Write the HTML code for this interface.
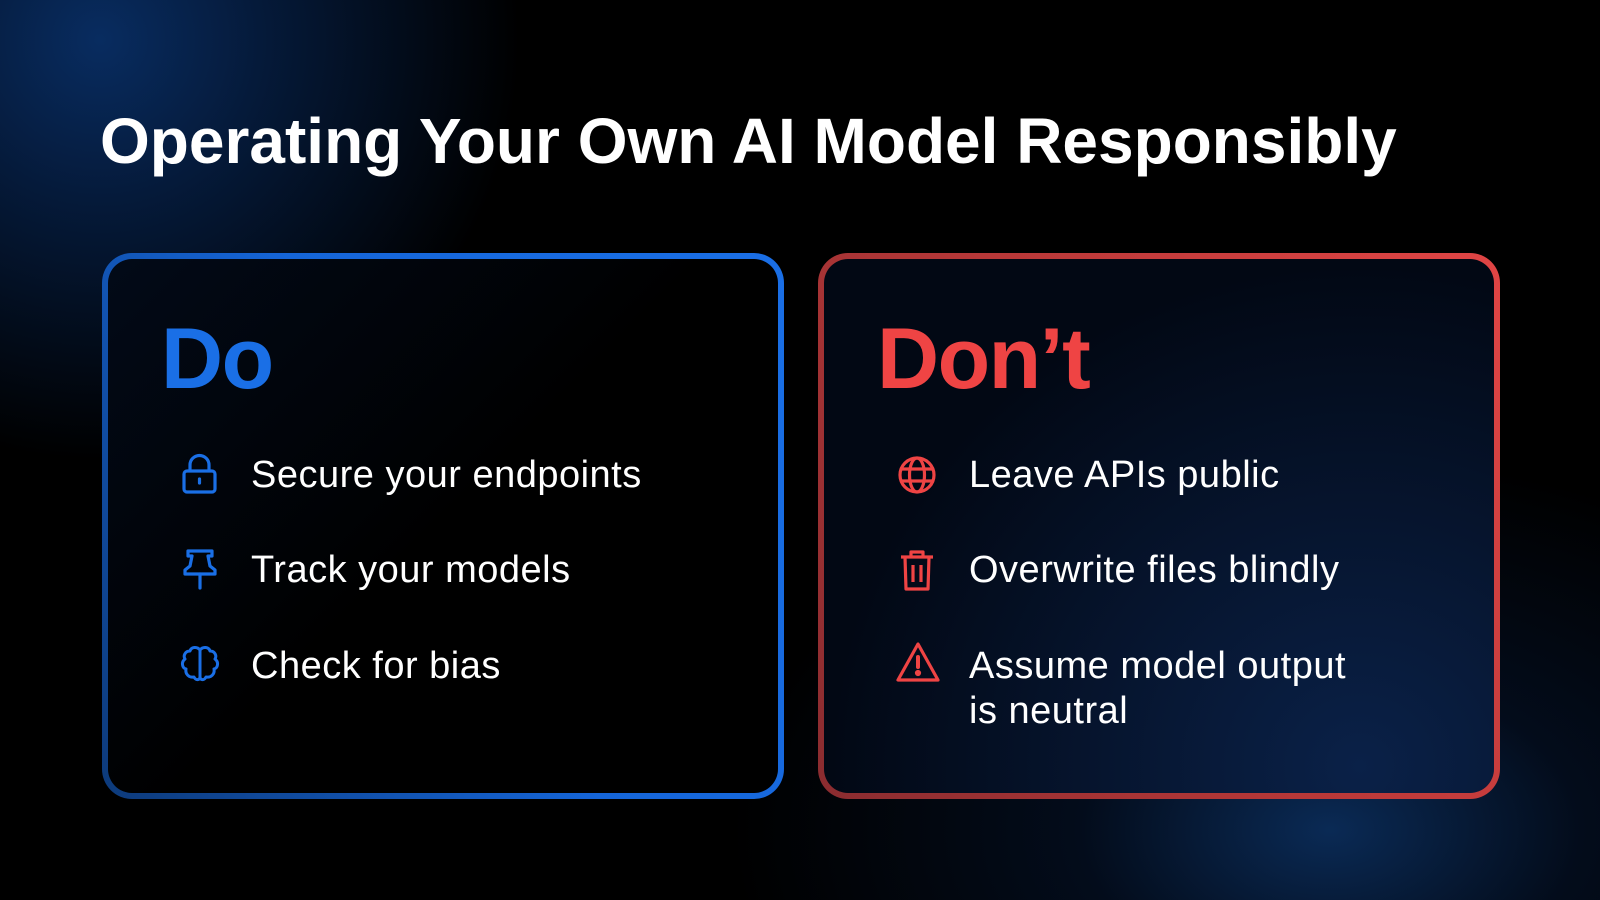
<!DOCTYPE html>
<html><head><meta charset="utf-8"><style>
html,body{margin:0;padding:0}
body{width:1600px;height:900px;overflow:hidden;position:relative;font-family:"Liberation Sans",sans-serif;color:#fff;
background:radial-gradient(circle at 100px 40px,#082c60 0,#051a3a 160px,rgba(0,0,0,0) 420px),radial-gradient(ellipse at 1330px 830px,#0a2a55 0,rgba(5,20,45,.6) 250px,rgba(0,0,0,0) 600px),#000;}
h1{position:absolute;left:100px;top:104px;margin:0;font-size:64px;font-weight:bold;letter-spacing:0px;white-space:nowrap}
.box{position:absolute;top:253px;width:682px;height:546px;border-radius:30px;padding:6px;box-sizing:border-box}
.box .in{width:100%;height:100%;border-radius:24px;background:#000}
.do{left:102px;background:linear-gradient(60deg,#0d3a7a,#1565d8 50%,#1a6fe6)}
.do .in{background:linear-gradient(135deg,#020a18,#000 50%)}
.dont{left:818px;background:linear-gradient(240deg,#e04545,#b83838 50%,#8a2c30)}
.dont .in{background:radial-gradient(ellipse at 80% 95%,#0a2148,#020814 70%)}
.hd{position:absolute;top:310px;font-size:86px;font-weight:bold;letter-spacing:-1.5px}
.it{position:absolute;font-size:38px;line-height:45px;letter-spacing:0.5px;white-space:nowrap}
svg{position:absolute}
</style></head><body>
<h1>Operating Your Own AI Model Responsibly</h1>
<div class="box do"><div class="in"></div></div>
<div class="box dont"><div class="in"></div></div>
<div class="hd" style="left:161px;color:#1a6fe6">Do</div>
<div class="hd" style="left:877px;color:#ef4444">Don’t</div>

<svg style="left:180px;top:453px" width="40" height="42" viewBox="0 0 40 42" fill="none" stroke="#1a6fe6" stroke-width="3.2" stroke-linejoin="round"><rect x="4" y="18" width="31" height="21" rx="3"/><path d="M10 18V12a9.5 9.5 0 0 1 19 0v6"/><path d="M19.5 26v4" stroke-linecap="round"/></svg>
<svg style="left:182px;top:548px" width="36" height="44" viewBox="0 0 36 44" fill="none" stroke="#1a6fe6" stroke-width="3.2" stroke-linejoin="round"><path d="M6 3h24v5h-4l2 10 5 4v4H3v-4l5-4 2-10H6z"/><path d="M18 26v14" stroke-linecap="round"/></svg>
<svg style="left:179px;top:645px" width="42" height="40" viewBox="0 0 42 40" fill="none" stroke="#1a6fe6" stroke-width="3" stroke-linejoin="round"><path d="M21 5c-3-4-9-3-10 1-5 0-7 5-5 8-4 3-3 9 1 10-1 5 3 9 8 8 2 4 6 3 6 0z"/><path d="M21 5c3-4 9-3 10 1 5 0 7 5 5 8 4 3 3 9-1 10 1 5-3 9-8 8-2 4-6 3-6 0z"/></svg>

<div class="it" style="left:251px;top:453px">Secure your endpoints</div>
<div class="it" style="left:251px;top:548px">Track your models</div>
<div class="it" style="left:251px;top:644px">Check for bias</div>

<svg style="left:897px;top:455px" width="40" height="40" viewBox="0 0 40 40" fill="none" stroke="#ef4444" stroke-width="3.2"><circle cx="20" cy="20" r="17"/><ellipse cx="20" cy="20" rx="7.5" ry="17"/><path d="M3 14h34M3 26h34"/></svg>
<svg style="left:898px;top:548px" width="38" height="44" viewBox="0 0 38 44" fill="none" stroke="#ef4444" stroke-width="3.2" stroke-linejoin="round"><path d="M3 9h32M13 9V4h12v5"/><path d="M7 9l1 32h22l1-32"/><path d="M15 17v17M23 17v17"/></svg>
<svg style="left:895px;top:641px" width="46" height="42" viewBox="0 0 46 42" fill="none" stroke="#ef4444" stroke-width="3.2" stroke-linejoin="round"><path d="M23 3L3 39h40z"/><path d="M23 16v10" stroke-width="4" stroke-linecap="round"/><circle cx="23" cy="32" r="1.5" fill="#ef4444"/></svg>

<div class="it" style="left:969px;top:453px">Leave APIs public</div>
<div class="it" style="left:969px;top:548px">Overwrite files blindly</div>
<div class="it" style="left:969px;top:644px">Assume model output<br>is neutral</div>
</body></html>
